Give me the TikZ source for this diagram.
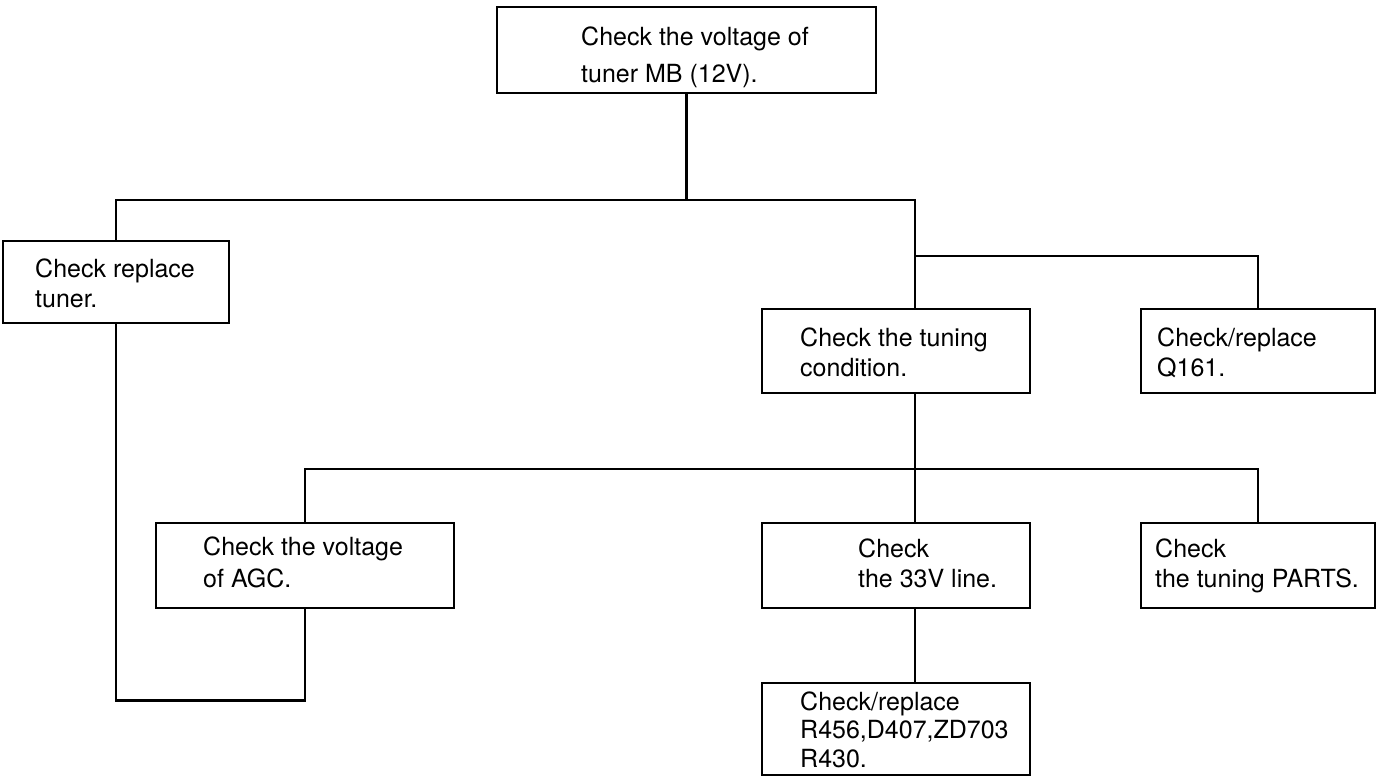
\documentclass[tikz,border=0pt]{standalone}
\usepackage{fontspec}
\setmainfont{TeX Gyre Heros}
\newcommand\tline[2]{\parbox[t]{400pt}{\raggedright\baselineskip=#1pt #2}}
\begin{document}
\begin{tikzpicture}[x=1pt,y=-1pt,
  box/.style={draw=black, line width=1.5pt, inner sep=0pt, anchor=center},
  txt/.style={inner sep=0pt, anchor=base west, font=\fontsize{25}{31}\selectfont},
  conn/.style={draw=black, line width=2.6pt, line cap=rect}]
\useasboundingbox (0,0) rectangle (1381,777);
\fill[white] (0,0) rectangle (1381,777);
% boxes
\node[box, minimum width=379pt, minimum height=86pt] (top) at (686.5,50) {};
\node[box, minimum width=226pt, minimum height=82pt] (tuner) at (116,282) {};
\node[box, minimum width=268pt, minimum height=84pt] (tuning) at (896,351) {};
\node[box, minimum width=234pt, minimum height=84pt] (q161) at (1258,351) {};
\node[box, minimum width=298pt, minimum height=85pt] (agc) at (305,565.5) {};
\node[box, minimum width=268pt, minimum height=85pt] (v33) at (896,565.5) {};
\node[box, minimum width=234pt, minimum height=85pt] (parts) at (1258,565.5) {};
\node[box, minimum width=268pt, minimum height=92pt] (r456) at (896,729) {};
% texts
\node[txt] (ttop) at (581,45) {\tline{37}{Check the voltage of\\tuner MB (12V).}};
\node[txt] (ttuner) at (35,277) {\tline{30}{Check replace\\tuner.}};
\node[txt] (ttuning) at (800,346) {\tline{30}{Check the tuning\\condition.}};
\node[txt] (tq161) at (1157,346) {\tline{30}{Check/replace\\Q161.}};
\node[txt] (tagc) at (203,555) {\tline{32}{Check the voltage\\of AGC.}};
\node[txt] (tv33) at (858,557) {\tline{30}{Check\\the 33V line.}};
\node[txt] (tparts) at (1155,557) {\tline{30}{Check\\the tuning PARTS.}};
\node[txt] (tr456) at (800,710) {\tline{28.5}{Check/replace\\R456,D407,ZD703\\R430.}};
% junctions
\coordinate (jA) at (915,200);
\coordinate (jQ) at (915,256);
\coordinate (jB) at (915,469);
% connectors
\draw[conn] (top.south) -- (top.south |- jA);
\draw[conn] (tuner.north) |- (jA) -- (jA |- tuning.north);
\draw[conn] (jQ) -| (q161.north);
\draw[conn] (jA |- tuning.south) -- (jA |- v33.north);
\draw[conn] (agc.north) |- (jB) -| (parts.north);
\draw[conn] (jA |- v33.south) -- (jA |- r456.north);
\draw[conn] (tuner.south) -- ++(0,377) -| (agc.south);
\end{tikzpicture}
\end{document}
